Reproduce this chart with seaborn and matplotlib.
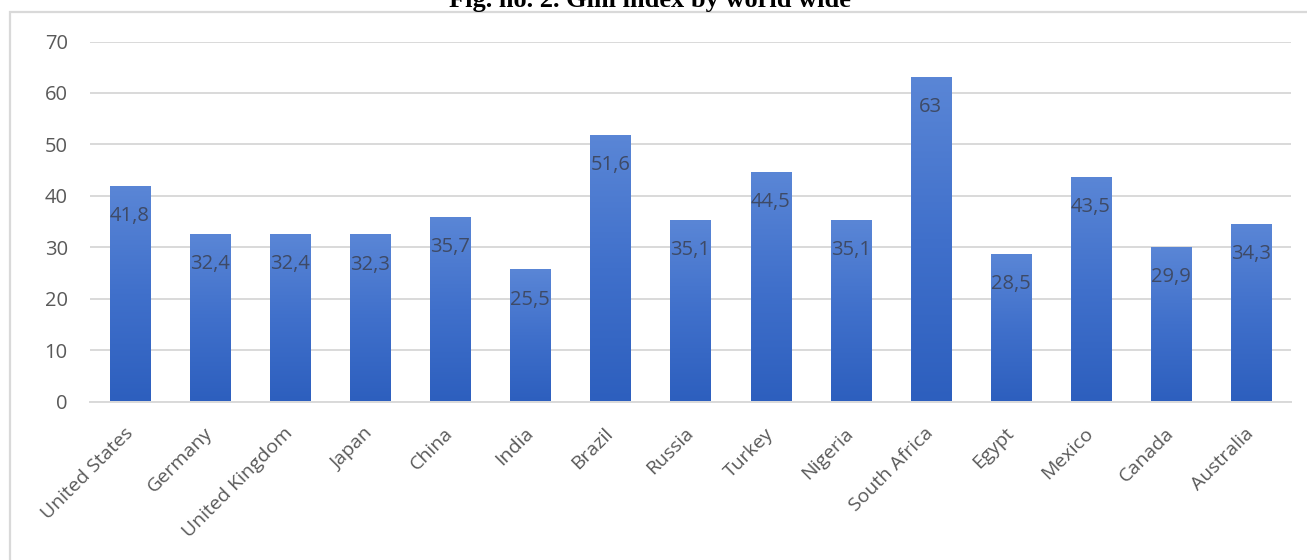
import numpy as np
import pandas as pd
import matplotlib
matplotlib.use("Agg")
import matplotlib.pyplot as plt
import seaborn as sns
from matplotlib.colors import LinearSegmentedColormap
from matplotlib.patches import Rectangle

countries = ["United States", "Germany", "United Kingdom", "Japan", "China", "India",
             "Brazil", "Russia", "Turkey", "Nigeria", "South Africa", "Egypt",
             "Mexico", "Canada", "Australia"]
gini = [41.8, 32.4, 32.4, 32.3, 35.7, 25.5, 51.6, 35.1, 44.5, 35.1, 63, 28.5, 43.5, 29.9, 34.3]
yticks = [0, 10, 20, 30, 40, 50, 60, 70]
title = "Fig. no. 2. Gini index by world wide"

sns.set_theme(style="white")
plt.rcParams['font.family'] = ['Open Sans', 'DejaVu Sans']

W, H = 1307, 560
fig = plt.figure(figsize=(W / 100, H / 100), dpi=100)
ax = fig.add_axes([90 / W, 1 - 401.5 / H, (1291 - 90) / W, (401.5 - 41.5) / H])

df = pd.DataFrame({"country": countries, "gini": gini})
sns.barplot(data=df, x="country", y="gini", ax=ax, width=0.5, color="#4472c4",
            saturation=1, zorder=2)

# gradient fill on the bars
cmap = LinearSegmentedColormap.from_list("bar", ["#2d5fbe", "#4070cb", "#5a86d6"])
grad = np.linspace(0, 1, 256).reshape(-1, 1)
for p in ax.patches:
    x0, w, h = p.get_x(), p.get_width(), p.get_height()
    p.set_facecolor("none")
    p.set_edgecolor("none")
    ax.imshow(grad, extent=[x0, x0 + w, 0, h], origin="lower", aspect="auto",
              cmap=cmap, zorder=2)

ax.set_xlim(-0.5, len(countries) - 0.5)
ax.set_ylim(0, 70)
ax.set_yticks(yticks)
ax.set_yticklabels([str(t) for t in yticks])
ax.grid(axis="y", color="#d9d9d9", lw=1.4, zorder=0)
ax.set_axisbelow(True)
for s in ["top", "right", "left"]:
    ax.spines[s].set_visible(False)
ax.spines["bottom"].set_color("#d9d9d9")
ax.spines["bottom"].set_linewidth(1.4)
ax.set_xlabel("")
ax.set_ylabel("")
ax.tick_params(axis="y", length=0, pad=16, labelsize=14.5, labelcolor="#595959")
ax.tick_params(axis="x", length=0, pad=21, labelsize=14, labelcolor="#595959")
ax.set_xticks(range(len(countries)))
ax.set_xticklabels(countries, rotation=45, ha="right", va="center", rotation_mode="anchor")

# data labels inside end
for i, v in enumerate(gini):
    lab = ("%g" % v).replace(".", ",")
    ax.annotate(lab, (i, v), xytext=(0, -21), textcoords="offset points",
                ha="center", va="center", fontsize=14.5, color="#3e4a66", zorder=3)

# chart frame
fig.add_artist(Rectangle((10 / W, -0.2), 1.2, 1 - 12 / H + 0.2, transform=fig.transFigure,
                         fill=False, ec="#d9d9d9", lw=1.6))

fig.text(650 / W, 1 - 7 / H, title, ha="center", va="baseline",
         fontfamily="Liberation Serif", fontweight="bold", fontsize=19, color="black")

fig.savefig("out.png", dpi=100, facecolor="white")
